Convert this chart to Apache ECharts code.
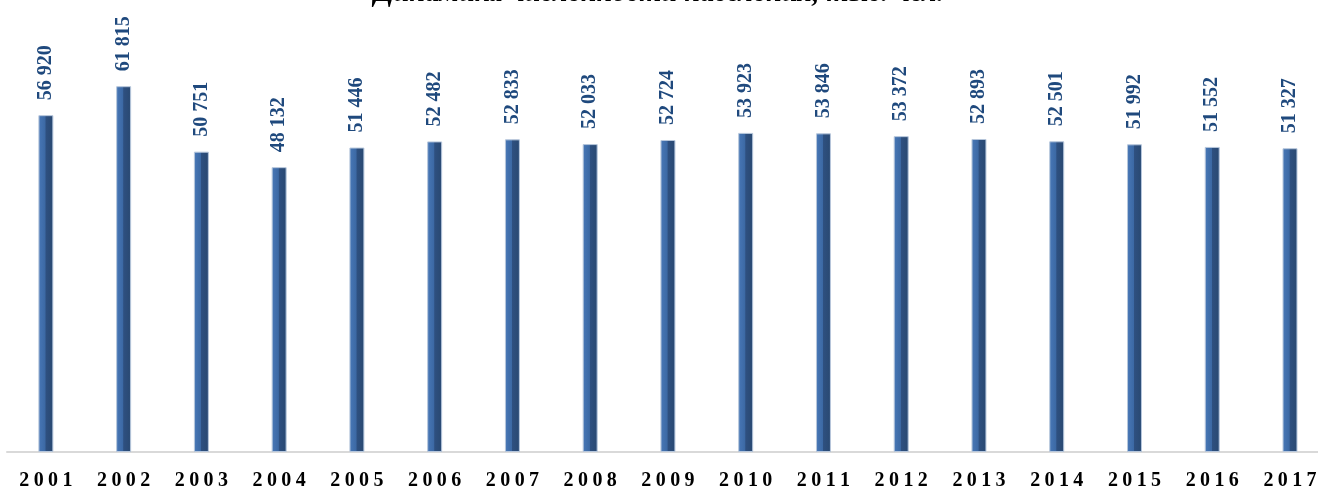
<!DOCTYPE html>
<html><head><meta charset="utf-8">
<script src="https://cdn.jsdelivr.net/npm/echarts@6/dist/echarts.min.js"></script>
<style>html,body{margin:0;padding:0;background:#fff}#c{width:1318px;height:487px}</style>
</head><body><div id="c"></div>
<script>
var titleText = 'Динамика численности населения, тыс. чел.';
var years = ['2001','2002','2003','2004','2005','2006','2007','2008','2009','2010','2011','2012','2013','2014','2015','2016','2017'];
var values = [56920,61815,50751,48132,51446,52482,52833,52033,52724,53923,53846,53372,52893,52501,51992,51552,51327];

function fmt(v){ return String(v).replace(/\B(?=(\d{3})+(?!\d))/g,' '); }
var idx = years.map(function(y,i){return i;});
var seriesData = values.map(function(v,i){return [i,v];});

var chart = echarts.init(document.getElementById('c'), null, {renderer:'canvas'});
chart.setOption({
  animation:false,
  title:{text:titleText,left:'center',top:-25.5,textStyle:{fontFamily:'Liberation Serif',fontStyle:'italic',fontWeight:'bold',fontSize:28.5,color:'#000'}},
  grid:{left:7,top:20,right:0,height:432,containLabel:false,outerBoundsMode:'none'},
  xAxis:{type:'value',min:-0.5,max:16.36,splitLine:{show:false},
    axisLine:{lineStyle:{color:'#d9d9d9',width:2}},axisTick:{show:false},
    axisLabel:{margin:19,customValues:idx,showMinLabel:true,showMaxLabel:true,
      formatter:function(v){var y=years[Math.round(v)]||'';return y.split('').map(function(ch){return '{d|'+ch+'}';}).join('');},
      rich:{d:{fontFamily:'Liberation Serif',fontWeight:'bold',fontSize:20,color:'#000',padding:[0,2.2,0,2.2]}}}},
  yAxis:{type:'value',min:0,max:73000,show:false,splitLine:{show:false}},
  series:[{type:'bar',data:seriesData,barWidth:15,
    itemStyle:{
      color:new echarts.graphic.LinearGradient(0,0,1,0,[
        {offset:0,color:'#5a86c0'},{offset:0.12,color:'#4574b2'},{offset:0.45,color:'#3c69a4'},
        {offset:0.5,color:'#2e5080'},{offset:0.88,color:'#2a4a74'},{offset:1,color:'#3a5d8c'}]),
      borderColor:'#b7c7dc',borderWidth:1},
    label:{show:true,position:'top',rotate:90,align:'left',verticalAlign:'middle',distance:15,
      formatter:function(p){return fmt(p.value[1]);},
      fontFamily:'Liberation Serif',fontWeight:'bold',fontSize:20,color:'#1f497d'}
  }]
});
</script></body></html>
